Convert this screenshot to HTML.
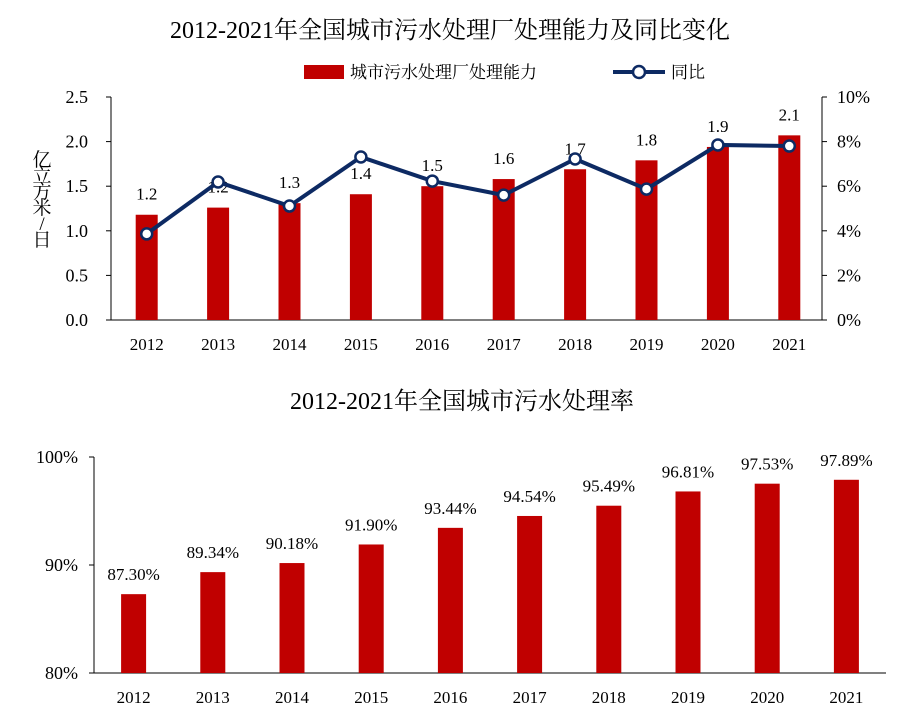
<!DOCTYPE html>
<html><head><meta charset="utf-8">
<style>
body{margin:0;background:#fff;}
svg{display:block;font-family:"Liberation Serif","Noto Serif CJK SC",serif;}
</style></head>
<body>
<svg id="c" width="900" height="719" viewBox="0 0 900 719"></svg>
<script>
const years=["2012","2013","2014","2015","2016","2017","2018","2019","2020","2021"];
const capacity=[1.18,1.26,1.31,1.41,1.50,1.58,1.69,1.79,1.94,2.07];
const capacityLabels=["1.2","1.2","1.3","1.4","1.5","1.6","1.7","1.8","1.9","2.1"];
const yoy=[3.86,6.19,5.11,7.31,6.23,5.60,7.22,5.87,7.85,7.80];
const leftTicks=["0.0","0.5","1.0","1.5","2.0","2.5"];
const rightTicks=["0%","2%","4%","6%","8%","10%"];
const rate=[87.30,89.34,90.18,91.90,93.44,94.54,95.49,96.81,97.53,97.89];
const rateTicks=["80%","90%","100%"];

const svg=document.getElementById('c');
const NS="http://www.w3.org/2000/svg";
function mk(tag,attrs,text){const e=document.createElementNS(NS,tag);for(const k in attrs)e.setAttribute(k,attrs[k]);if(text!==undefined)e.textContent=text;svg.appendChild(e);return e;}

// Top chart
const L1=111,R1=825,T1=97,B1=320;
const x1=i=>L1+(i+0.5)*(R1-L1)/years.length;
const yL=v=>B1-v/2.5*(B1-T1);
const yR=v=>B1-v/10*(B1-T1);
let t=mk('text',{x:450,y:38,'font-size':24,'text-anchor':'middle'},'2012-2021年全国城市污水处理厂处理能力及同比变化');

// legend
let e=mk('rect',{x:304,y:65,width:40,height:14,fill:'#c00000'});

e=mk('text',{x:350,y:78,'font-size':17},'城市污水处理厂处理能力');

e=mk('line',{x1:613,y1:72,x2:665,y2:72,stroke:'#0d2a63','stroke-width':4});

e=mk('circle',{cx:639,cy:72,r:6,fill:'#fff',stroke:'#0d2a63','stroke-width':2.5});

e=mk('text',{x:671,y:78,'font-size':17},'同比');

// axes
e=mk('line',{x1:L1,y1:T1,x2:L1,y2:B1,stroke:'#000'});

e=mk('line',{x1:R1-3,y1:T1,x2:R1-3,y2:B1,stroke:'#000'});

e=mk('line',{x1:L1,y1:B1,x2:R1-3,y2:B1,stroke:'#000'});

leftTicks.forEach((s,i)=>{const y=yL(i*0.5);
 e=mk('line',{x1:L1-5,y1:y,x2:L1,y2:y,stroke:'#000'});
 e=mk('text',{x:L1-23,y:y+6,'font-size':18,'text-anchor':'end'},s);});
rightTicks.forEach((s,i)=>{const y=yR(i*2);
 e=mk('line',{x1:R1-3,y1:y,x2:R1+2,y2:y,stroke:'#000'});
 e=mk('text',{x:R1+12,y:y+6,'font-size':18},s);});
['亿','立','方','米','/','日'].forEach((c,i)=>{e=mk('text',{x:42,y:166+i*16,'font-size':19,'text-anchor':'middle'},c);});
years.forEach((yr,i)=>{
 e=mk('rect',{x:x1(i)-11,y:yL(capacity[i]),width:22,height:B1-yL(capacity[i]),fill:'#c00000'});
 
 e=mk('text',{x:x1(i),y:yL(capacity[i])-15,'font-size':17,'text-anchor':'middle'},capacityLabels[i]);
 
 e=mk('text',{x:x1(i),y:350,'font-size':17,'text-anchor':'middle'},yr);
 
});
e=mk('polyline',{points:yoy.map((v,i)=>x1(i)+','+yR(v)).join(' '),fill:'none',stroke:'#0d2a63','stroke-width':4});

yoy.forEach((v,i)=>{e=mk('circle',{cx:x1(i),cy:yR(v),r:5.5,fill:'#fff',stroke:'#0d2a63','stroke-width':2.5});
 });

// Bottom chart
const L2=94,R2=886,T2=457,B2=673;
const x2=i=>L2+(i+0.5)*(R2-L2)/years.length;
const y2=v=>B2-(v-80)/20*(B2-T2);
e=mk('text',{x:462,y:409,'font-size':24,'text-anchor':'middle'},'2012-2021年全国城市污水处理率');

e=mk('line',{x1:L2,y1:T2,x2:L2,y2:B2,stroke:'#000'});
e=mk('line',{x1:L2,y1:B2,x2:R2,y2:B2,stroke:'#000'});
rateTicks.forEach((s,i)=>{const y=y2(80+i*10);
 e=mk('line',{x1:L2-5,y1:y,x2:L2,y2:y,stroke:'#000'});
 e=mk('text',{x:L2-16,y:y+6,'font-size':18,'text-anchor':'end'},s);});
years.forEach((yr,i)=>{
 e=mk('rect',{x:x2(i)-12.5,y:y2(rate[i]),width:25,height:B2-y2(rate[i]),fill:'#c00000'});
 
 e=mk('text',{x:x2(i),y:y2(rate[i])-14,'font-size':17,'text-anchor':'middle'},rate[i].toFixed(2)+'%');
 
 e=mk('text',{x:x2(i),y:703,'font-size':17,'text-anchor':'middle'},yr);
 
});
</script>
</body></html>
